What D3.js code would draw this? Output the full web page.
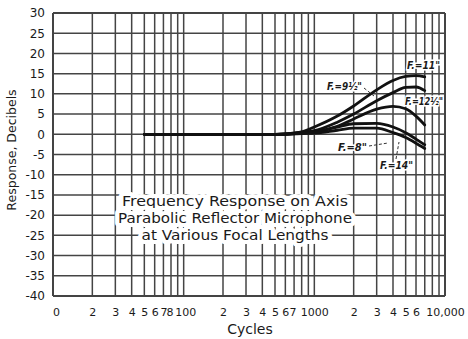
<!DOCTYPE html>
<html><head><meta charset="utf-8">
<script src="https://cdn.jsdelivr.net/npm/d3@7"></script>
<style>body{margin:0;background:#fff}svg{display:block}</style></head>
<body><svg id="c" width="468" height="339"></svg>
<script>
// ---- data ----
const freqs = [50,100,200,300,400,500,600,700,800,1000,1500,2000,3000,4000,5000,6000,7000];
const f11   = [0,0,0,0,0,0,0.1,0.3,0.6,1.8,4.5,7.0,11.0,13.3,14.3,14.5,14.2];
const f125  = [0,0,0,0,0,0,0.1,0.3,0.5,0.9,3.0,5.0,8.3,10.3,11.6,11.7,10.8];
const f95   = [0,0,0,0,0,0,0.1,0.2,0.4,0.6,2.0,3.8,6.2,6.9,6.3,4.5,2.3];
const f8    = [0,0,0,0,0,0,0,0.1,0.3,0.5,1.8,2.6,2.7,1.8,0.4,-1.2,-2.6];
const f14   = [0,0,0,0,0,0,0,0.1,0.2,0.3,1.0,1.5,1.5,0.4,-0.8,-2.2,-3.5];
const seriesNames = ['F.=11"','F.=12½"','F.=9½"','F.=8"','F.=14"'];
const yTicks = [30,25,20,15,10,5,0,-5,-10,-15,-20,-25,-30,-35,-40];
const xTicks = [10,20,30,40,50,60,70,80,100,200,300,400,500,600,700,1000,2000,3000,4000,5000,6000,10000];
const xTickLabels = ["0","2","3","4","5","6","7","8","100","2","3","4","5","6","7","1000","2","3","4","5","6","10,000"];
const titleLines = ["Frequency Response on Axis","Parabolic Reflector Microphone","at Various Focal Lengths"];

// ---- scales ----
const svg = d3.select('#c');
const x = d3.scaleLog().domain([10,10000]).range([53,445]);
const y = d3.scaleLinear().domain([-40,30]).range([296,13]);
const gridCol = '#444';

// vertical grid
const vLines = [];
[10,100,1000].forEach(d => { for (let n=1;n<=9;n++) vLines.push(n*d); });
vLines.push(10000);
svg.append('g').selectAll('line').data(vLines).join('line')
  .attr('x1', d=>x(d)).attr('x2', d=>x(d))
  .attr('y1', y(30)).attr('y2', y(-40))
  .attr('stroke', gridCol).attr('stroke-width', d => (d===10||d===10000)?2:1.5);
// horizontal grid
svg.append('g').selectAll('line').data(yTicks).join('line')
  .attr('x1', x(10)).attr('x2', x(10000))
  .attr('y1', d=>y(d)).attr('y2', d=>y(d))
  .attr('stroke', gridCol).attr('stroke-width', d => (d===-40||d===30)?2:1.5);

// y axis labels
const yAxis = d3.axisLeft(y).tickValues(yTicks).tickSize(0).tickPadding(8).tickFormat(d => String(d));
const ya = svg.append('g').attr('transform', `translate(${x(10)},0)`).call(yAxis);
ya.select('.domain').remove();
ya.selectAll('text').attr('font-family','DejaVu Sans').attr('font-size',12).attr('fill','#1a1a1a');

// x axis labels
const xAxis = d3.axisBottom(x).tickValues(xTicks).tickSize(0).tickPadding(12)
  .tickFormat((d,i) => xTickLabels[i]);
const xa = svg.append('g').attr('transform', `translate(0,${y(-40)})`).call(xAxis);
xa.select('.domain').remove();
xa.selectAll('text').attr('font-family','DejaVu Sans').attr('font-size',11).attr('fill','#1a1a1a')
  .attr('dx', (d,i) => xTickLabels[i]==='8' ? -1.5 : (xTickLabels[i]==='100' ? 1.5 : (xTickLabels[i]==='7' && d===700 ? -1.5 : (d===10?3:0))));

// axis titles
svg.append('text').attr('transform','translate(16,150) rotate(-90)')
  .attr('text-anchor','middle').attr('font-family','DejaVu Sans').attr('font-size',12.5)
  .attr('fill','#1a1a1a').text('Response, Decibels');
svg.append('text').attr('x',250).attr('y',334).attr('text-anchor','middle')
  .attr('font-family','DejaVu Sans').attr('font-size',14).attr('fill','#1a1a1a').text('Cycles');

// title block with white knockout
const tlen = [226, 234, 187];
svg.append('g').selectAll('text').data(titleLines).join('text')
  .attr('x', 235).attr('y', (d,i)=>206 + i*17).attr('text-anchor','middle')
  .attr('font-family','DejaVu Sans').attr('font-size',13.5).attr('fill','#1a1a1a')
  .attr('textLength',(d,i)=>tlen[i]).attr('lengthAdjust','spacingAndGlyphs')
  .attr('stroke','#fff').attr('stroke-width',8).attr('paint-order','stroke')
  .attr('stroke-linejoin','round')
  .text(d=>d);

// curves
const allSeries = [f11, f125, f95, f8, f14];
const line = d3.line().x(d=>x(d[0])).y(d=>y(d[1])).curve(d3.curveMonotoneX);
svg.append('g').selectAll('path').data(allSeries).join('path')
  .attr('d', s => line(freqs.map((f,i)=>[f, s[i]])))
  .attr('fill','none').attr('stroke','#111').attr('stroke-width',2.8).attr('stroke-linecap','round');

// curve labels
const labelPos = [[407,69],[405,105],[327,90],[338,151],[380,169]];
const labelLen = [33,38,35,29,33];
svg.append('g').selectAll('text').data(seriesNames).join('text')
  .attr('x',(d,i)=>labelPos[i][0]).attr('y',(d,i)=>labelPos[i][1])
  .attr('font-family','DejaVu Sans').attr('font-style','italic').attr('font-weight','bold')
  .attr('font-size',11).attr('fill','#1a1a1a')
  .attr('textLength',(d,i)=>labelLen[i]).attr('lengthAdjust','spacingAndGlyphs')
  .attr('stroke','#fff').attr('stroke-width',3).attr('paint-order','stroke')
  .text(d=>d);

// leaders
const leaders = [
  [[364,88],[374,96]],
  [[369,146],[388,143]],
  [[396,159],[399,142]]
];
svg.append('g').selectAll('path').data(leaders).join('path')
  .attr('d', d=>d3.line()(d)).attr('fill','none').attr('stroke','#333')
  .attr('stroke-width',1).attr('stroke-dasharray','3,2');
</script></body></html>
